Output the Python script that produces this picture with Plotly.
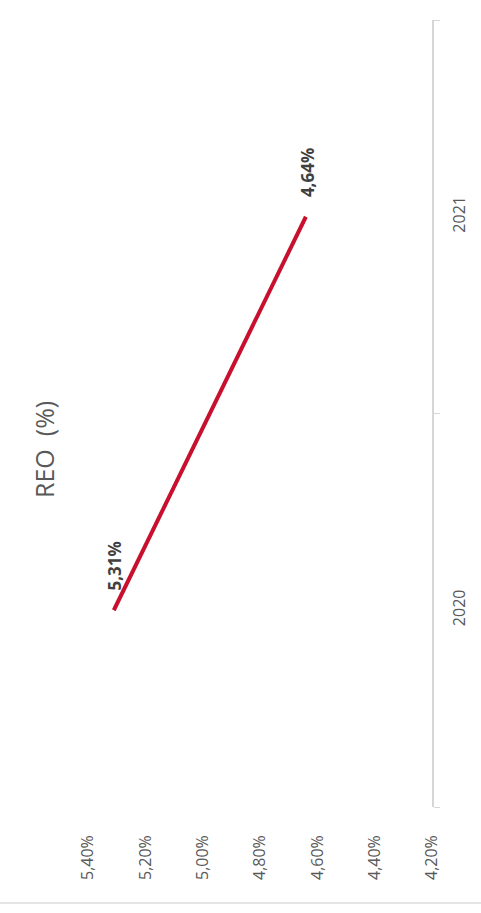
import plotly.graph_objects as go

years = ["2020", "2021"]
reo = [0.0531, 0.0464]
value_ticks = [0.054, 0.052, 0.050, 0.048, 0.046, 0.044, 0.042]
title_text = "REO&nbsp;&nbsp;(%)"

W, H = 481, 913
L, R, T, B = 88, 49, 20, 106
pw, ph = W - L - R, H - T - B
FONT = "Open Sans, Liberation Sans, sans-serif"

fig = go.Figure()
fig.add_trace(go.Scatter(
    x=reo, y=years, mode="lines",
    line=dict(color="#C8102E", width=4),
    hoverinfo="skip", showlegend=False,
))

labels = ["5,31%", "4,64%"]
for i, (xv, lab) in enumerate(zip(reo, labels)):
    fig.add_annotation(
        x=xv, y=i, xref="x", yref="y", text="<b>%s</b>" % lab,
        textangle=-90, showarrow=False, yanchor="bottom", xanchor="center",
        yshift=18, xshift=1,
        font=dict(family=FONT, size=17, color="#404040"),
    )

fig.add_annotation(
    x=(44 - L) / pw, y=(T + ph - 450) / ph, xref="paper", yref="paper",
    xanchor="center", yanchor="middle",
    text=title_text, textangle=-90, showarrow=False,
    font=dict(family=FONT, size=25, color="#595959"),
)

fig.add_shape(
    type="line", xref="paper", yref="paper",
    x0=-L / pw, x1=(W - L) / pw, y0=(T + ph - 903) / ph, y1=(T + ph - 903) / ph,
    line=dict(color="#dcdcdc", width=1.5),
)

fig.update_layout(
    width=W, height=H,
    margin=dict(l=L, r=R, t=T, b=B),
    paper_bgcolor="white", plot_bgcolor="white",
    separators=",.",
    xaxis=dict(
        range=[0.054, 0.042], tickvals=value_ticks, tickformat=".2%",
        tickangle=-90, showgrid=False, zeroline=False, showline=False,
        ticks="", ticklabelstandoff=24,
        tickfont=dict(family=FONT, size=16, color="#595959"),
    ),
    yaxis=dict(
        type="category", categoryorder="array", categoryarray=years,
        range=[-0.5, 1.5], side="right", showgrid=False, zeroline=False,
        showline=True, linecolor="#d6d6d6", linewidth=1.5,
        ticks="outside", tickson="boundaries", ticklen=6, tickcolor="#d6d6d6",
        tickangle=-90, ticklabelstandoff=12,
        tickfont=dict(family=FONT, size=16, color="#595959"),
    ),
)

fig.write_html("out.html")
